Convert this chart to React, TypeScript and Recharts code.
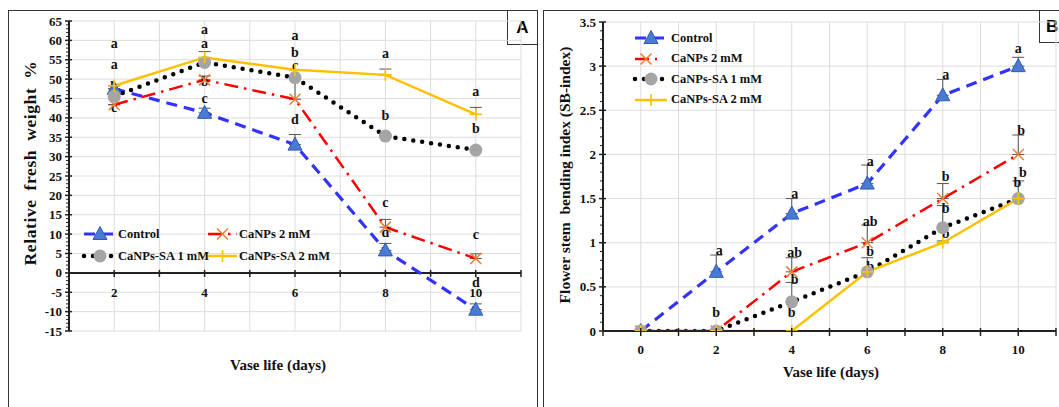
import React from "react";
import {
  ComposedChart,
  Line,
  XAxis,
  YAxis,
  CartesianGrid,
  ReferenceLine,
  ReferenceDot,
  ErrorBar,
  Legend,
} from "recharts";

const FONT = '"Liberation Serif", "Times New Roman", serif';

// Panel A - relative fresh weight %
const daysA = [2, 4, 6, 8, 10];
const controlA = [47.5, 41.3, 33.1, 5.8, -9.5];
const canpsA = [43.4, 49.8, 44.8, 11.8, 3.7];
const sa1A = [45.6, 54.3, 50.4, 35.3, 31.7];
const sa2A = [48.3, 55.6, 52.4, 51.1, 40.9];
const controlErrA = [0, 1.2, 2.6, 1.8, 1.5];
const canpsErrA = [0, 1.0, 5.0, 2.0, 1.2];
const sa1ErrA = [0, 0, 0, 0, 0];
const sa2ErrA = [0, 1.5, 0, 1.5, 1.8];
const yLabelsA = [-15, -10, -5, 0, 5, 10, 15, 20, 25, 30, 35, 40, 45, 50, 55, 60, 65];
const xLabelsA = [2, 4, 6, 8, 10];
const lettersA = [
  { day: 2, y: 59.4, t: "a" },
  { day: 2, y: 53.9, t: "a" },
  { day: 2, y: 48.2, t: "b" },
  { day: 2, y: 42.7, t: "c" },
  { day: 4, y: 62.9, t: "a" },
  { day: 4, y: 59.2, t: "a" },
  { day: 4, y: 49.4, t: "b" },
  { day: 4, y: 45.2, t: "c" },
  { day: 6, y: 61.4, t: "a" },
  { day: 6, y: 57.1, t: "b" },
  { day: 6, y: 53.7, t: "c" },
  { day: 6, y: 39.8, t: "d" },
  { day: 8, y: 56.7, t: "a" },
  { day: 8, y: 40.6, t: "b" },
  { day: 8, y: 18.2, t: "c" },
  { day: 8, y: 10.5, t: "d" },
  { day: 10, y: 47.0, t: "a" },
  { day: 10, y: 37.3, t: "b" },
  { day: 10, y: 10.0, t: "c" },
  { day: 10, y: -2.4, t: "d" },
];

// Panel B - flower stem bending index
const daysB = [0, 2, 4, 6, 8, 10];
const controlB = [0, 0.67, 1.33, 1.67, 2.67, 3.0];
const canpsB = [0, 0, 0.67, 1.0, 1.5, 2.0];
const sa1B = [0, 0, 0.33, 0.67, 1.17, 1.5];
const sa2B = [0, 0, 0, 0.67, 1.0, 1.5];
const controlErrB = [0, 0.19, 0.17, 0.21, 0.18, 0.1];
const canpsErrB = [0, 0, 0.16, 0.2, 0.17, 0.22];
const sa1ErrB = [0, 0, 0.22, 0.16, 0.25, 0.2];
const sa2ErrB = [0, 0, 0, 0, 0.02, 0];
const yLabelsB = [0, 0.5, 1, 1.5, 2, 2.5, 3, 3.5];
const xLabelsB = [0, 2, 4, 6, 8, 10];
const lettersB = [
  { day: 2.08, y: 0.92, t: "a" },
  { day: 2.0, y: 0.21, t: "b" },
  { day: 4.08, y: 1.56, t: "a" },
  { day: 4.08, y: 0.89, t: "ab" },
  { day: 4.08, y: 0.59, t: "b" },
  { day: 4.0, y: 0.21, t: "b" },
  { day: 6.08, y: 1.93, t: "a" },
  { day: 6.08, y: 1.25, t: "ab" },
  { day: 6.08, y: 0.91, t: "b" },
  { day: 6.08, y: 0.74, t: "b" },
  { day: 8.08, y: 2.91, t: "a" },
  { day: 8.08, y: 1.75, t: "b" },
  { day: 8.08, y: 1.39, t: "b" },
  { day: 8.08, y: 1.11, t: "b" },
  { day: 10.0, y: 3.21, t: "a" },
  { day: 10.08, y: 2.28, t: "b" },
  { day: 10.12, y: 1.8, t: "b" },
  { day: 9.98, y: 1.69, t: "b" },
];

const LEGEND = [
  { kind: "control", label: "Control" },
  { kind: "canps", label: "CaNPs 2 mM" },
  { kind: "sa1", label: "CaNPs-SA 1 mM" },
  { kind: "sa2", label: "CaNPs-SA 2 mM" },
];

const STYLE: Record<string, any> = {
  control: { stroke: "#3333FF", strokeWidth: 3.2, strokeDasharray: "11 7" },
  canps: { stroke: "#FF0000", strokeWidth: 2.5, strokeDasharray: "14 6 2.5 6" },
  sa1: { stroke: "#000000", strokeWidth: 4.5, strokeDasharray: "0 9", strokeLinecap: "round" },
  sa2: { stroke: "#FFC000", strokeWidth: 2.5 },
};

const range = (a: number, b: number, step: number) => {
  const out: number[] = [];
  for (let i = 0; a + i * step <= b + 1e-9; i++) out.push(Math.round((a + i * step) * 100) / 100);
  return out;
};

const rowsA = daysA.map((d, i) => ({
  day: d,
  control: controlA[i],
  canps: canpsA[i],
  sa1: sa1A[i],
  sa2: sa2A[i],
  controlErr: [0, controlErrA[i]],
  canpsErr: [0, canpsErrA[i]],
  sa1Err: [0, sa1ErrA[i]],
  sa2Err: [0, sa2ErrA[i]],
}));

const rowsB = daysB.map((d, i) => ({
  day: d,
  control: controlB[i],
  canps: canpsB[i],
  sa1: sa1B[i],
  sa2: sa2B[i],
  controlErr: [0, controlErrB[i]],
  canpsErr: [0, canpsErrB[i]],
  sa1Err: [0, sa1ErrB[i]],
  sa2Err: [0, sa2ErrB[i]],
}));

function Marker({ kind, cx, cy }: { kind: string; cx: number; cy: number }) {
  if (kind === "control")
    return (
      <path
        d={`M${cx},${cy - 7.5} L${cx + 7},${cy + 5.5} L${cx - 7},${cy + 5.5} Z`}
        fill="#4A7BD0"
        stroke="#2F5BB7"
        strokeWidth={1}
      />
    );
  if (kind === "canps")
    return (
      <g stroke="#ED7D31" strokeWidth={1.5}>
        <line x1={cx - 5.5} y1={cy - 5.5} x2={cx + 5.5} y2={cy + 5.5} />
        <line x1={cx - 5.5} y1={cy + 5.5} x2={cx + 5.5} y2={cy - 5.5} />
      </g>
    );
  if (kind === "sa1") return <circle cx={cx} cy={cy} r={6.5} fill="#A5A5A5" />;
  return (
    <g stroke="#FFC000" strokeWidth={1.6}>
      <line x1={cx - 6} y1={cy} x2={cx + 6} y2={cy} />
      <line x1={cx} y1={cy - 6} x2={cx} y2={cy + 6} />
    </g>
  );
}

const dotFor = (kind: string) => (p: any) => {
  if (p.cx == null || p.cy == null) return <g key={`${kind}-${p.index}`} />;
  return (
    <g key={`${kind}-${p.index}`}>
      <Marker kind={kind} cx={p.cx} cy={p.cy} />
    </g>
  );
};

const textStyle = { fontFamily: FONT, fontWeight: 700, fill: "#111" } as const;

const yTick = (labels: number[]) => (p: any) => {
  const { x, y, payload } = p;
  const major = labels.some((m) => Math.abs(m - payload.value) < 1e-6);
  return (
    <g>
      <line x1={x - (major ? 4 : 3)} x2={x + (major ? 3 : 0)} y1={y} y2={y} stroke="#222" strokeWidth={major ? 1.5 : 1} />
      {major ? (
        <text x={x - 7} y={y} dy="0.35em" textAnchor="end" fontSize={13} {...textStyle}>
          {payload.value}
        </text>
      ) : null}
    </g>
  );
};

// x axis of panel A crosses at y = 0
const A_PLOT_H = 310;
const ZERO_SHIFT_A = (A_PLOT_H * (0 - -15)) / (65 - -15);

const xTickA = (p: any) => {
  const { x, y, payload } = p;
  const y0 = y - ZERO_SHIFT_A;
  const lab = xLabelsA.includes(payload.value);
  return (
    <g>
      <line x1={x} x2={x} y1={y0 - 3} y2={y0 + 4} stroke="#222" strokeWidth={1.5} />
      {lab ? (
        <text x={x} y={y0 + 20} dy="0.35em" textAnchor="middle" fontSize={13} {...textStyle}>
          {payload.value}
        </text>
      ) : null}
    </g>
  );
};

const xTickB = (p: any) => {
  const { x, y, payload } = p;
  const lab = xLabelsB.includes(payload.value);
  return (
    <g>
      <line x1={x} x2={x} y1={y - 3} y2={y + 5} stroke="#222" strokeWidth={1.5} />
      {lab ? (
        <text x={x} y={y + 18} dy="0.35em" textAnchor="middle" fontSize={13} {...textStyle}>
          {payload.value}
        </text>
      ) : null}
    </g>
  );
};

function Sample({ kind, w }: { kind: string; w: number }) {
  return (
    <svg width={w} height={16} style={{ display: "block", overflow: "visible" }}>
      <line x1={0} x2={w} y1={8} y2={8} {...STYLE[kind]} />
      <Marker kind={kind} cx={w / 2} cy={8} />
    </svg>
  );
}

const legendText = {
  fontFamily: FONT,
  fontWeight: 700,
  fontSize: 12.5,
  color: "#111",
  whiteSpace: "nowrap" as const,
  marginLeft: 2,
};

function LegendA() {
  const order = ["control", "canps", "sa1", "sa2"];
  return (
    <div style={{ display: "grid", gridTemplateColumns: "124px 140px", rowGap: 6 }}>
      {order.map((k) => {
        const it = LEGEND.find((l) => l.kind === k)!;
        return (
          <div key={k} style={{ display: "flex", alignItems: "center", height: 16 }}>
            <Sample kind={k} w={k === "canps" || k === "sa2" ? 29 : 32} />
            <span style={legendText}>{it.label}</span>
          </div>
        );
      })}
    </div>
  );
}

function LegendB() {
  return (
    <div style={{ display: "flex", flexDirection: "column", rowGap: 4.5 }}>
      {LEGEND.map((it) => (
        <div key={it.kind} style={{ display: "flex", alignItems: "center", height: 16 }}>
          <div style={{ width: 34 }}>
            <Sample kind={it.kind} w={it.kind === "canps" ? 22 : 32} />
          </div>
          <span style={legendText}>{it.label}</span>
        </div>
      ))}
    </div>
  );
}

const letterShape = (t: string) => (p: any) => (
  <text x={p.cx} y={p.cy} dy="0.35em" textAnchor="middle" fontSize={14} {...textStyle}>
    {t}
  </text>
);

const axisTitle = (extra: React.CSSProperties): React.CSSProperties => ({
  position: "absolute",
  fontFamily: FONT,
  fontWeight: 700,
  color: "#111",
  whiteSpace: "nowrap",
  transform: "translate(-50%, -50%)",
  ...extra,
});

function PanelA() {
  return (
    <ComposedChart width={540} height={407} data={rowsA} margin={{ top: 21, right: 19, bottom: 46, left: 29 }}>
      <CartesianGrid stroke="#DDDDDD" strokeWidth={1} horizontalValues={yLabelsA} />
      <XAxis
        type="number"
        dataKey="day"
        domain={[1, 11]}
        ticks={range(1, 11, 1)}
        interval={0}
        axisLine={false}
        tickLine={false}
        tickSize={0}
        tickMargin={0}
        height={30}
        tick={xTickA}
        allowDataOverflow
      />
      <YAxis
        type="number"
        domain={[-15, 65]}
        ticks={range(-15, 65, 1)}
        interval={0}
        tickLine={false}
        tickSize={0}
        tickMargin={0}
        width={40}
        axisLine={{ stroke: "#222", strokeWidth: 2 }}
        tick={yTick(yLabelsA)}
        allowDataOverflow
      />
      <ReferenceLine y={0} stroke="#222" strokeWidth={2} />
      <Legend
        verticalAlign="middle"
        align="center"
        content={() => <LegendA />}
        wrapperStyle={{ position: "absolute", left: 84, top: 226, width: 270, height: 44 }}
      />
      <Line dataKey="control" isAnimationActive={false} {...STYLE.control} dot={dotFor("control")} activeDot={false}>
        <ErrorBar dataKey="controlErr" direction="y" width={6} stroke="#555" strokeWidth={1} />
      </Line>
      <Line dataKey="canps" isAnimationActive={false} {...STYLE.canps} dot={dotFor("canps")} activeDot={false}>
        <ErrorBar dataKey="canpsErr" direction="y" width={6} stroke="#555" strokeWidth={1} />
      </Line>
      <Line dataKey="sa1" isAnimationActive={false} {...STYLE.sa1} dot={dotFor("sa1")} activeDot={false}>
        <ErrorBar dataKey="sa1Err" direction="y" width={6} stroke="#555" strokeWidth={1} />
      </Line>
      <Line dataKey="sa2" isAnimationActive={false} {...STYLE.sa2} dot={dotFor("sa2")} activeDot={false}>
        <ErrorBar dataKey="sa2Err" direction="y" width={6} stroke="#555" strokeWidth={1} />
      </Line>
      {lettersA.map((l, i) => (
        <ReferenceDot key={`la${i}`} x={l.day} y={l.y} r={0} shape={letterShape(l.t)} ifOverflow="visible" />
      ))}
    </ComposedChart>
  );
}

function PanelB() {
  return (
    <ComposedChart width={519} height={407} data={rowsB} margin={{ top: 22, right: 3, bottom: 46, left: 23 }}>
      <CartesianGrid stroke="#DDDDDD" strokeWidth={1} horizontalValues={yLabelsB} />
      <XAxis
        type="number"
        dataKey="day"
        domain={[-1, 11]}
        ticks={range(-1, 11, 1)}
        interval={0}
        tickLine={false}
        tickSize={0}
        tickMargin={0}
        height={30}
        axisLine={{ stroke: "#222", strokeWidth: 2 }}
        tick={xTickB}
        allowDataOverflow
      />
      <YAxis
        type="number"
        domain={[0, 3.5]}
        ticks={range(0, 3.5, 0.1)}
        interval={0}
        tickLine={false}
        tickSize={0}
        tickMargin={0}
        width={40}
        axisLine={{ stroke: "#222", strokeWidth: 2 }}
        tick={yTick(yLabelsB)}
        allowDataOverflow
      />
      <Legend
        verticalAlign="middle"
        align="center"
        content={() => <LegendB />}
        wrapperStyle={{ position: "absolute", left: 95, top: 30, width: 160, height: 84 }}
      />
      <Line dataKey="control" isAnimationActive={false} {...STYLE.control} dot={dotFor("control")} activeDot={false}>
        <ErrorBar dataKey="controlErr" direction="y" width={6} stroke="#555" strokeWidth={1} />
      </Line>
      <Line dataKey="canps" isAnimationActive={false} {...STYLE.canps} dot={dotFor("canps")} activeDot={false}>
        <ErrorBar dataKey="canpsErr" direction="y" width={6} stroke="#555" strokeWidth={1} />
      </Line>
      <Line dataKey="sa1" isAnimationActive={false} {...STYLE.sa1} dot={dotFor("sa1")} activeDot={false}>
        <ErrorBar dataKey="sa1Err" direction="y" width={6} stroke="#555" strokeWidth={1} />
      </Line>
      <Line dataKey="sa2" isAnimationActive={false} {...STYLE.sa2} dot={dotFor("sa2")} activeDot={false}>
        <ErrorBar dataKey="sa2Err" direction="y" width={6} stroke="#555" strokeWidth={1} />
      </Line>
      {lettersB.map((l, i) => (
        <ReferenceDot key={`lb${i}`} x={l.day} y={l.y} r={0} shape={letterShape(l.t)} ifOverflow="visible" />
      ))}
    </ComposedChart>
  );
}

export default function App() {
  const border = "1.5px solid #333";
  return (
    <div style={{ position: "fixed", left: 0, top: 0, width: 1059, height: 407, overflow: "hidden", background: "#fff" }}>
      <div style={{ position: "absolute", left: 8, top: 10, width: 528, height: 420, border }} />
      <div style={{ position: "absolute", left: 543, top: 10, width: 540, height: 420, border }} />
      <div
        style={{
          position: "absolute",
          left: 507,
          top: 10,
          width: 29,
          height: 33,
          border,
          fontFamily: '"Liberation Sans", Arial, sans-serif',
          fontWeight: 700,
          fontSize: 17,
          display: "flex",
          alignItems: "center",
          justifyContent: "center",
          background: "#fff",
        }}
      >
        A
      </div>
      <div
        style={{
          position: "absolute",
          left: 1039,
          top: 10,
          width: 40,
          height: 33,
          border,
          fontFamily: '"Liberation Sans", Arial, sans-serif',
          fontWeight: 700,
          fontSize: 17,
          display: "flex",
          alignItems: "center",
          paddingLeft: 6,
          boxSizing: "border-box",
          background: "#fff",
        }}
      >
        B
      </div>
      <div style={{ position: "absolute", left: 0, top: 0 }}>
        <PanelA />
      </div>
      <div style={{ position: "absolute", left: 540, top: 0 }}>
        <PanelB />
      </div>
      <div style={axisTitle({ left: 30, top: 163, fontSize: 17.5, letterSpacing: 0.6, wordSpacing: 4, transform: "translate(-50%, -50%) rotate(-90deg)" })}>
        Relative fresh weight %
      </div>
      <div style={axisTitle({ left: 278, top: 365, fontSize: 15 })}>Vase life (days)</div>
      <div style={axisTitle({ left: 565, top: 175, fontSize: 15.5, transform: "translate(-50%, -50%) rotate(-90deg)" })}>
        Flower stem&nbsp; bending index (SB-index)
      </div>
      <div style={axisTitle({ left: 831, top: 372, fontSize: 15 })}>Vase life (days)</div>
    </div>
  );
}
